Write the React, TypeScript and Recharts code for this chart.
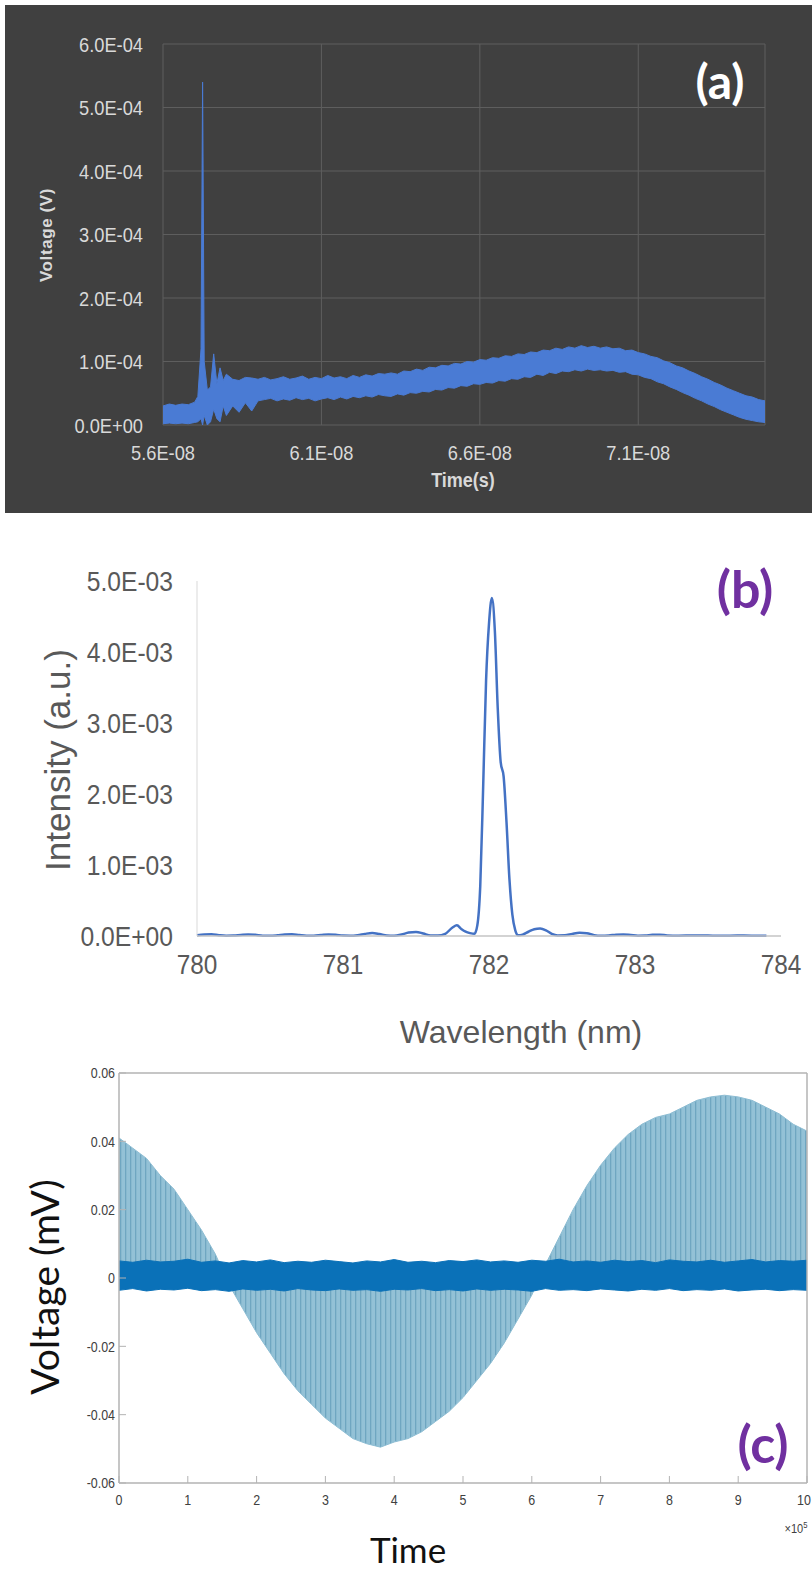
import { AreaChart, Area, LineChart, Line, XAxis, YAxis, CartesianGrid } from 'recharts'

// (a) oscilloscope trace: time in 1E-08 s, band low/high in 1E-04 V
const TIME_A = [
  5.6, 5.62, 5.64, 5.66, 5.68, 5.7, 5.71, 5.72, 5.725, 5.73, 5.74, 5.75, 5.76, 5.77, 5.78, 5.79, 5.8, 5.82, 5.84, 5.86, 5.88, 5.9,
  5.92, 5.94, 5.96, 5.98, 6.0, 6.02, 6.04, 6.06, 6.08, 6.1, 6.12, 6.14, 6.16, 6.18, 6.2, 6.22, 6.24, 6.26, 6.28, 6.3,
  6.32, 6.34, 6.36, 6.38, 6.4, 6.42, 6.44, 6.46, 6.48, 6.5, 6.52, 6.54, 6.56, 6.58, 6.6, 6.62, 6.64, 6.66, 6.68, 6.7,
  6.72, 6.74, 6.76, 6.78, 6.8, 6.82, 6.84, 6.86, 6.88, 6.9, 6.92, 6.94, 6.96, 6.98, 7.0, 7.02, 7.04, 7.06, 7.08, 7.1,
  7.12, 7.14, 7.16, 7.18, 7.2, 7.22, 7.24, 7.26, 7.28, 7.3, 7.32, 7.34, 7.36, 7.38, 7.4, 7.42, 7.44, 7.46, 7.48, 7.5,
]
const VLO_A = [
  0.02, 0.03, 0.02, 0.03, 0.02, 0.04, 0.05, 0.1, 0.0, 0.15, 0.0, 0.05, 0.25, 0.1, 0.05, 0.3, 0.15, 0.3, 0.2, 0.35, 0.22, 0.38,
  0.4, 0.42, 0.38, 0.41, 0.39, 0.43, 0.4, 0.42, 0.38, 0.41, 0.43, 0.4, 0.44, 0.41, 0.45, 0.43, 0.46, 0.44, 0.48, 0.46,
  0.45, 0.49, 0.47, 0.51, 0.5, 0.53, 0.52, 0.56, 0.55, 0.59, 0.58, 0.62, 0.61, 0.65, 0.64, 0.67, 0.66, 0.7, 0.69, 0.73,
  0.72, 0.76, 0.75, 0.8, 0.78, 0.83, 0.81, 0.85, 0.84, 0.87, 0.85, 0.88, 0.86, 0.87, 0.85, 0.86, 0.83, 0.84, 0.8, 0.79,
  0.75, 0.73, 0.68, 0.65, 0.6, 0.56, 0.51, 0.47, 0.42, 0.38, 0.33, 0.29, 0.24, 0.2, 0.16, 0.12, 0.09, 0.07, 0.05, 0.04,
]
const VHI_A = [
  0.3, 0.33, 0.31, 0.33, 0.32, 0.36, 0.45, 1.2, 5.4, 1.0, 0.55, 0.6, 1.12, 0.65, 0.9, 0.7, 0.8, 0.72, 0.7, 0.75, 0.74, 0.72,
  0.75, 0.71, 0.73, 0.76, 0.72, 0.74, 0.77, 0.72, 0.75, 0.73, 0.78, 0.74, 0.76, 0.73, 0.78, 0.75, 0.79, 0.77, 0.81, 0.8,
  0.82, 0.8, 0.85, 0.84, 0.88, 0.86, 0.91, 0.9, 0.94, 0.93, 0.97, 0.96, 1.0, 0.99, 1.03, 1.02, 1.06, 1.05, 1.09, 1.08,
  1.12, 1.11, 1.15, 1.14, 1.18, 1.17, 1.21, 1.19, 1.23, 1.21, 1.25, 1.22, 1.24, 1.21, 1.23, 1.2, 1.21, 1.17, 1.18, 1.14,
  1.12, 1.08, 1.06, 1.01, 0.98, 0.93, 0.9, 0.85, 0.81, 0.76, 0.72, 0.67, 0.63, 0.58, 0.54, 0.5, 0.46, 0.44, 0.4, 0.38,
]
const X_TICKS_A = [5.6, 6.1, 6.6, 7.1]
const Y_TICKS_A = [0, 1, 2, 3, 4, 5, 6]

// (b) spectrum: wavelength in nm, intensity in 1E-03 a.u.
const WL_B = [
  780.0, 780.05, 780.1, 780.15, 780.2, 780.25, 780.3, 780.35, 780.4, 780.45, 780.5, 780.55, 780.6, 780.65, 780.7, 780.75,
  780.8, 780.85, 780.9, 780.95, 781.0, 781.05, 781.1, 781.15, 781.2, 781.25, 781.3, 781.35, 781.4, 781.45, 781.5, 781.55,
  781.6, 781.65, 781.7, 781.75, 781.78, 781.81, 781.84, 781.87, 781.9, 781.92, 781.94, 781.96, 781.98, 782.0, 782.02,
  782.04, 782.06, 782.08, 782.1, 782.12, 782.14, 782.16, 782.18, 782.2, 782.23, 782.27, 782.31, 782.35, 782.39, 782.43,
  782.47, 782.52, 782.57, 782.62, 782.67, 782.72, 782.77, 782.82, 782.87, 782.92, 782.97, 783.02, 783.07, 783.12, 783.17,
  783.22, 783.3, 783.4, 783.5, 783.6, 783.7, 783.8, 783.9,
]
const INT_B = [
  0.01, 0.02, 0.025, 0.012, 0.004, 0.006, 0.015, 0.022, 0.016, 0.005, 0.003, 0.01, 0.022, 0.025, 0.014, 0.004,
  0.005, 0.014, 0.022, 0.018, 0.006, 0.004, 0.012, 0.03, 0.042, 0.028, 0.008, 0.004, 0.02, 0.048, 0.058, 0.035,
  0.008, 0.006, 0.03, 0.12, 0.15, 0.1, 0.06, 0.04, 0.03, 0.15, 0.7, 2.1, 3.6, 4.4, 4.76,
  4.3, 3.2, 2.45, 2.25, 1.6, 0.8, 0.3, 0.08, 0.01, 0.02, 0.06, 0.095, 0.105, 0.08, 0.03,
  0.008, 0.01, 0.03, 0.045, 0.04, 0.012, 0.004, 0.008, 0.018, 0.022, 0.014, 0.004, 0.006, 0.016, 0.018,
  0.008, 0.004, 0.008, 0.006, 0.004, 0.006, 0.005, 0.003,
]
const X_TICKS_B = [780, 781, 782, 783, 784]
const Y_TICKS_B = [0, 1, 2, 3, 4, 5]

// (c) modulated signal: time in 1E+05, envelope and noise band in mV
const X_C = [
  0, 0.2, 0.4, 0.6, 0.8, 1.0, 1.2, 1.4, 1.6, 1.8, 2.0, 2.2, 2.4, 2.6, 2.8, 3.0, 3.2, 3.4, 3.6, 3.8, 4.0, 4.2, 4.4, 4.6, 4.8,
  5.0, 5.2, 5.4, 5.6, 5.8, 6.0, 6.2, 6.4, 6.6, 6.8, 7.0, 7.2, 7.4, 7.6, 7.8, 8.0, 8.2, 8.4, 8.6, 8.8, 9.0, 9.2, 9.4, 9.6,
  9.8, 10.0,
]
const ENV_C = [
  0.041, 0.038, 0.035, 0.03, 0.026, 0.02, 0.014, 0.007, -0.002, -0.009,
  -0.016, -0.022, -0.028, -0.033, -0.037, -0.041, -0.044, -0.047, -0.0485, -0.0495,
  -0.048, -0.047, -0.045, -0.042, -0.039, -0.035, -0.03, -0.025, -0.019, -0.012,
  -0.005, 0.004, 0.012, 0.02, 0.027, 0.033, 0.038, 0.042, 0.045, 0.047,
  0.048, 0.05, 0.052, 0.053, 0.0535, 0.053, 0.052, 0.05, 0.048, 0.045,
  0.043,
]
const BAND_HI_C = [
  0.005, 0.0046, 0.0052, 0.0047, 0.0049, 0.0055, 0.0046, 0.005, 0.0044, 0.0051,
  0.0047, 0.0053, 0.0045, 0.0049, 0.0046, 0.0052, 0.0048, 0.0044, 0.005, 0.0047,
  0.0054, 0.0046, 0.0049, 0.0045, 0.0051, 0.0048, 0.0053, 0.0047, 0.005, 0.0046,
  0.0052, 0.0049, 0.0055, 0.0047, 0.005, 0.0046, 0.0052, 0.0048, 0.0051, 0.0045,
  0.0053, 0.0049, 0.0047, 0.0052, 0.0046, 0.005, 0.0054, 0.0047, 0.0051, 0.0049,
  0.0052,
]
const BAND_LO_C = [
  -0.0036, -0.0031, -0.0038, -0.0033, -0.0035, -0.003, -0.0037, -0.0034, -0.0039, -0.0032,
  -0.0036, -0.0033, -0.0038, -0.0031, -0.0035, -0.0037, -0.0032, -0.0036, -0.0034, -0.0039,
  -0.0033, -0.0035, -0.0031, -0.0037, -0.0034, -0.0038, -0.0032, -0.0036, -0.0033, -0.0035,
  -0.0039, -0.0031, -0.0036, -0.0034, -0.0037, -0.0032, -0.0035, -0.0038, -0.0033, -0.0036,
  -0.0031, -0.0037, -0.0034, -0.0036, -0.0032, -0.0038, -0.0035, -0.0033, -0.0037, -0.0034,
  -0.0036,
]
const X_TICKS_C = [0, 1, 2, 3, 4, 5, 6, 7, 8, 9, 10]
const Y_TICKS_C = [-0.06, -0.04, -0.02, 0, 0.02, 0.04, 0.06]

const SANS = "'Liberation Sans', Arial, sans-serif"
const CALI = "Lato, 'Open Sans', sans-serif"

type TickStyle = {
  fill: string
  size: number
  sx: number
  anchor: 'start' | 'middle' | 'end'
  fmt: (v: number) => string
}

// tick label drawn with a horizontal squeeze (the source figure uses narrow fonts)
function SquishTick(props: any) {
  const { x, y, payload, st } = props
  const s: TickStyle = st
  return (
    <g transform={`translate(${x},${y})`}>
      <text
        transform={`scale(${s.sx},1)`}
        textAnchor={s.anchor}
        dy="0.36em"
        fill={s.fill}
        fontSize={s.size}
        fontFamily={SANS}
      >
        {s.fmt(payload.value)}
      </text>
    </g>
  )
}

function Caption({ x, y, rot = 0, sx = 1, sy = 1, style, children }: any) {
  return (
    <div
      style={{
        position: 'absolute',
        left: x,
        top: y,
        transform: `translate(-50%,-50%) rotate(${rot}deg) scale(${sx},${sy})`,
        whiteSpace: 'nowrap',
        lineHeight: 1,
        ...style,
      }}
    >
      {children}
    </div>
  )
}

const expo = (v: number, e: string) => (v === 0 ? '0.0E+00' : `${v.toFixed(1)}E-${e}`)

const A_X: TickStyle = { fill: '#d9d9d9', size: 21, sx: 0.87, anchor: 'middle', fmt: (v) => `${v.toFixed(1)}E-08` }
const A_Y: TickStyle = { fill: '#d9d9d9', size: 21, sx: 0.87, anchor: 'end', fmt: (v) => expo(v, '04') }
const B_X: TickStyle = { fill: '#595959', size: 28, sx: 0.87, anchor: 'middle', fmt: (v) => String(v) }
const B_Y: TickStyle = { fill: '#595959', size: 28, sx: 0.88, anchor: 'end', fmt: (v) => expo(v, '03') }
const C_X: TickStyle = { fill: '#404040', size: 15, sx: 0.83, anchor: 'middle', fmt: (v) => String(v) }
const C_Y: TickStyle = {
  fill: '#404040',
  size: 15,
  sx: 0.83,
  anchor: 'end',
  fmt: (v) => (Math.abs(v) < 1e-9 ? '0' : v.toFixed(2)),
}

const BOX = '#b3b3b3'

export default function App() {
  const dataA = TIME_A.map((t, i) => ({ t, v: [VLO_A[i], VHI_A[i]] }))
  const dataB = WL_B.map((w, i) => ({ w, y: INT_B[i] }))
  const dataC = X_C.map((x, i) => ({ x, env: [0, ENV_C[i]], band: [BAND_LO_C[i], BAND_HI_C[i]] }))

  return (
    <div
      style={{
        position: 'absolute',
        left: 0,
        top: 0,
        width: 812,
        height: 1575,
        background: '#ffffff',
        overflow: 'hidden',
        fontFamily: SANS,
      }}
    >
      {/* ---------- (a) ---------- */}
      <div style={{ position: 'absolute', left: 5, top: 5, width: 807, height: 508, background: '#404040' }} />
      <div style={{ position: 'absolute', left: 0, top: 0 }}>
        <AreaChart width={812} height={515} data={dataA} margin={{ top: 44, right: 47, bottom: 0, left: 0 }}>
          <CartesianGrid stroke="#5e5e5e" strokeWidth={1} />
          <XAxis
            dataKey="t"
            type="number"
            domain={[5.6, 7.5]}
            ticks={X_TICKS_A}
            allowDataOverflow
            height={90}
            axisLine={false}
            tickLine={false}
            tickSize={0}
            tickMargin={27}
            tick={(p: any) => <SquishTick {...p} st={A_X} />}
          />
          <YAxis
            type="number"
            domain={[0, 6]}
            ticks={Y_TICKS_A}
            width={163}
            axisLine={false}
            tickLine={false}
            tickSize={0}
            tickMargin={20}
            tick={(p: any) => <SquishTick {...p} st={A_Y} />}
          />
          <Area
            type="linear"
            dataKey="v"
            stroke="#4a7bd4"
            strokeWidth={1}
            fill="#4a7bd4"
            fillOpacity={1}
            dot={false}
            activeDot={false}
            isAnimationActive={false}
          />
        </AreaChart>
      </div>
      <Caption x={46} y={235} rot={-90} style={{ color: '#d9d9d9', fontWeight: 700, fontSize: 17, letterSpacing: 0.6 }}>
        Voltage (V)
      </Caption>
      <Caption x={463} y={480} sx={0.9} style={{ color: '#d9d9d9', fontWeight: 700, fontSize: 20 }}>
        Time(s)
      </Caption>
      <Caption x={720} y={81} style={{ color: '#ffffff', fontWeight: 700, fontSize: 48, fontFamily: CALI }}>
        (a)
      </Caption>

      {/* ---------- (b) ---------- */}
      <div style={{ position: 'absolute', left: 0, top: 540 }}>
        <LineChart width={812} height={460} data={dataB} margin={{ top: 41, right: 31, bottom: 0, left: 0 }}>
          <XAxis
            dataKey="w"
            type="number"
            domain={[780, 784]}
            ticks={X_TICKS_B}
            height={64}
            axisLine={{ stroke: '#c4c4c4', strokeWidth: 1.5 }}
            tickLine={false}
            tickSize={0}
            tickMargin={28}
            tick={(p: any) => <SquishTick {...p} st={B_X} />}
          />
          <YAxis
            type="number"
            domain={[0, 5]}
            ticks={Y_TICKS_B}
            width={197}
            axisLine={{ stroke: '#d9d9d9', strokeWidth: 1 }}
            tickLine={false}
            tickSize={0}
            tickMargin={24}
            tick={(p: any) => <SquishTick {...p} st={B_Y} />}
          />
          <Line
            type="monotone"
            dataKey="y"
            stroke="#4472c4"
            strokeWidth={2.5}
            dot={false}
            activeDot={false}
            isAnimationActive={false}
          />
        </LineChart>
      </div>
      <Caption x={57} y={760} rot={-90} style={{ color: '#595959', fontSize: 35 }}>
        Intensity (a.u.)
      </Caption>
      <Caption x={521} y={1032} style={{ color: '#595959', fontSize: 32 }}>
        Wavelength (nm)
      </Caption>
      <Caption x={745} y={588} style={{ color: '#7030a0', fontWeight: 700, fontSize: 52, fontFamily: CALI }}>
        (b)
      </Caption>

      {/* ---------- (c) ---------- */}
      <div style={{ position: 'absolute', left: 0, top: 1040 }}>
        <AreaChart width={812} height={480} data={dataC} margin={{ top: 32, right: 4, bottom: 0, left: 0 }}>
          <defs>
            <pattern id="stripesC" width={5} height={10} patternUnits="userSpaceOnUse">
              <rect x={0} y={0} width={5} height={10} fill="#93c1d6" />
              <rect x={0} y={0} width={1.3} height={10} fill="#6fa6c1" />
            </pattern>
          </defs>
          <XAxis
            xAxisId="t"
            dataKey="x"
            type="number"
            domain={[0, 10]}
            ticks={X_TICKS_C}
            height={37}
            axisLine={{ stroke: BOX, strokeWidth: 1.5 }}
            tickLine={{ stroke: BOX, strokeWidth: 1 }}
            tickSize={-7}
            tickMargin={24}
            tick={(p: any) => <SquishTick {...p} st={C_X} />}
          />
          <XAxis
            xAxisId="top"
            dataKey="x"
            type="number"
            orientation="top"
            domain={[0, 10]}
            ticks={X_TICKS_C}
            height={1}
            axisLine={{ stroke: BOX, strokeWidth: 1.5 }}
            tickLine={{ stroke: BOX, strokeWidth: 1 }}
            tickSize={-7}
            tick={false}
          />
          <YAxis
            yAxisId="v"
            type="number"
            domain={[-0.06, 0.06]}
            ticks={Y_TICKS_C}
            width={119}
            axisLine={{ stroke: BOX, strokeWidth: 1.5 }}
            tickLine={{ stroke: BOX, strokeWidth: 1 }}
            tickSize={-7}
            tickMargin={11}
            tick={(p: any) => <SquishTick {...p} st={C_Y} />}
          />
          <YAxis
            yAxisId="r"
            orientation="right"
            type="number"
            domain={[-0.06, 0.06]}
            ticks={Y_TICKS_C}
            width={1}
            axisLine={{ stroke: BOX, strokeWidth: 1.5 }}
            tickLine={{ stroke: BOX, strokeWidth: 1 }}
            tickSize={-7}
            tick={false}
          />
          <Area
            xAxisId="t"
            yAxisId="v"
            type="linear"
            dataKey="env"
            stroke="#8dbdd3"
            strokeWidth={1}
            fill="url(#stripesC)"
            fillOpacity={1}
            dot={false}
            activeDot={false}
            isAnimationActive={false}
          />
          <Area
            xAxisId="t"
            yAxisId="v"
            type="linear"
            dataKey="band"
            stroke="#0a71b8"
            strokeWidth={1}
            fill="#0a71b8"
            fillOpacity={1}
            dot={false}
            activeDot={false}
            isAnimationActive={false}
          />
        </AreaChart>
      </div>
      <Caption x={44} y={1287} rot={-90} style={{ color: '#111111', fontSize: 39, fontFamily: CALI }}>
        Voltage (mV)
      </Caption>
      <Caption x={408} y={1549} style={{ color: '#111111', fontSize: 35, fontFamily: CALI }}>
        Time
      </Caption>
      <Caption x={796} y={1528} sx={0.85} style={{ color: '#404040', fontSize: 13 }}>
        ×10<sup style={{ fontSize: 9 }}>5</sup>
      </Caption>
      <Caption x={763} y={1443} style={{ color: '#7030a0', fontWeight: 700, fontSize: 52, fontFamily: CALI }}>
        (c)
      </Caption>
    </div>
  )
}
